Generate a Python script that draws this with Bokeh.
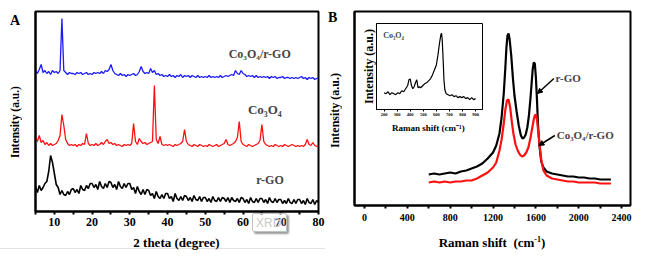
from bokeh.plotting import figure
from bokeh.models import (Range1d, FixedTicker, Label, Arrow, NormalHead,
                          GridBox, ColumnDataSource, Div)
from bokeh.embed import file_html
from bokeh.resources import INLINE

# ---------------- data ----------------
XRD_2THETA = [
    5.0, 5.5, 6.0, 6.5, 7.0, 7.5, 8.0, 8.5, 9.0, 9.5,
    10.0, 10.5, 11.0, 11.5, 12.0, 12.5, 13.0, 13.5, 14.0, 14.5,
    15.0, 15.5, 16.0, 16.5, 17.0, 17.5, 18.0, 18.5, 19.0, 19.5,
    20.0, 20.5, 21.0, 21.5, 22.0, 22.5, 23.0, 23.5, 24.0, 24.5,
    25.0, 25.5, 26.0, 26.5, 27.0, 27.5, 28.0, 28.5, 29.0, 29.5,
    30.0, 30.5, 31.0, 31.5, 32.0, 32.5, 33.0, 33.5, 34.0, 34.5,
    35.0, 35.5, 36.0, 36.5, 37.0, 37.5, 38.0, 38.5, 39.0, 39.5,
    40.0, 40.5, 41.0, 41.5, 42.0, 42.5, 43.0, 43.5, 44.0, 44.5,
    45.0, 45.5, 46.0, 46.5, 47.0, 47.5, 48.0, 48.5, 49.0, 49.5,
    50.0, 50.5, 51.0, 51.5, 52.0, 52.5, 53.0, 53.5, 54.0, 54.5,
    55.0, 55.5, 56.0, 56.5, 57.0, 57.5, 58.0, 58.5, 59.0, 59.5,
    60.0, 60.5, 61.0, 61.5, 62.0, 62.5, 63.0, 63.5, 64.0, 64.5,
    65.0, 65.5, 66.0, 66.5, 67.0, 67.5, 68.0, 68.5, 69.0, 69.5,
    70.0, 70.5, 71.0, 71.5, 72.0, 72.5, 73.0, 73.5, 74.0, 74.5,
    75.0, 75.5, 76.0, 76.5, 77.0, 77.5, 78.0, 78.5, 79.0, 79.5,
    80.0,
]
XRD_CO3O4_RGO = [
    141, 138, 142, 147, 139, 141, 138, 140, 137, 141,
    139, 140, 138, 141, 193, 141, 139, 137, 139, 138,
    138, 137, 139, 138, 139, 137, 138, 139, 137, 138,
    137, 139, 138, 139, 138, 140, 138, 141, 140, 142,
    147, 141, 138, 137, 136, 138, 136, 137, 135, 137,
    136, 137, 138, 136, 137, 140, 145, 140, 138, 139,
    138, 143, 139, 141, 137, 138, 136, 137, 135, 136,
    135, 137, 135, 136, 134, 136, 135, 137, 134, 136,
    135, 136, 134, 136, 135, 134, 136, 134, 135, 134,
    135, 134, 136, 134, 135, 134, 135, 134, 136, 134,
    135, 136, 135, 136, 137, 136, 141, 138, 137, 141,
    138, 137, 135, 136, 135, 136, 134, 136, 134, 135,
    134, 135, 134, 135, 133, 135, 134, 135, 133, 134,
    134, 135, 133, 134, 134, 133, 134, 133, 134, 133,
    134, 135, 133, 134, 132, 134, 133, 134, 132, 133,
    134,
]
XRD_CO3O4 = [
    74, 70, 76, 69, 71, 67, 69, 66, 68, 66,
    67, 68, 71, 76, 97, 86, 72, 68, 66, 67,
    66, 67, 65, 67, 66, 68, 67, 78, 68, 66,
    67, 66, 68, 66, 67, 69, 67, 70, 72, 68,
    69, 67, 68, 66, 67, 66, 65, 67, 66, 67,
    66, 68, 88, 70, 67, 73, 70, 68, 69, 67,
    68, 69, 70, 126, 72, 68, 75, 67, 66, 67,
    66, 67, 66, 65, 67, 66, 67, 68, 70, 82,
    70, 67, 66, 65, 67, 66, 65, 67, 66, 65,
    66, 65, 67, 66, 65, 66, 67, 65, 66, 67,
    68, 72, 67, 66, 67, 68, 70, 74, 90, 70,
    67, 66, 65, 67, 66, 65, 66, 67, 68, 71,
    87, 70, 67, 66, 65, 66, 65, 67, 66, 65,
    66, 65, 67, 66, 65, 66, 67, 66, 65, 66,
    65, 66, 65, 67, 72, 67, 66, 69, 66, 65,
    66,
]
XRD_RGO = [
    25, 19, 26, 21, 24, 28, 30, 40, 56, 49,
    38, 27, 24, 17, 21, 17, 16, 20, 17, 22,
    23, 19, 22, 18, 26, 22, 21, 26, 23, 28,
    28, 24, 27, 22, 30, 25, 23, 28, 24, 30,
    29, 24, 27, 22, 30, 25, 23, 28, 24, 28,
    28, 22, 24, 18, 25, 20, 17, 22, 17, 22,
    21, 16, 18, 13, 20, 15, 13, 17, 13, 18,
    18, 13, 15, 10, 18, 13, 11, 15, 11, 16,
    15, 11, 14, 10, 16, 12, 11, 15, 10, 14,
    14, 10, 13, 9, 15, 11, 10, 14, 10, 14,
    13, 10, 14, 9, 14, 11, 10, 13, 9, 14,
    13, 9, 12, 8, 14, 10, 9, 13, 9, 13,
    13, 9, 12, 8, 14, 10, 9, 13, 9, 12,
    12, 8, 11, 8, 13, 9, 8, 12, 8, 12,
    12, 8, 11, 7, 13, 9, 8, 12, 7, 11,
    9,
]
XRD_TICKS = [10, 20, 30, 40, 50, 60, 70, 80]
XRD_MINOR = [5, 15, 25, 35, 45, 55, 65, 75]

RAMAN_RGO_X = [600, 650, 700, 750, 800, 850, 900, 950, 1000, 1050,
               1100, 1150, 1200, 1230, 1260, 1280, 1300, 1315, 1325, 1335,
               1345, 1355, 1370, 1385, 1400, 1420, 1440, 1460, 1475, 1490,
               1505, 1520, 1535, 1550, 1560, 1570, 1580, 1590, 1600, 1610,
               1620, 1635, 1650, 1670, 1700, 1750, 1800, 1850, 1900, 1950,
               2000, 2050, 2100, 2150, 2200, 2250, 2300]
RAMAN_RGO_Y = [31, 32, 31, 32, 33, 32, 34, 35, 37, 39,
               42, 47, 53, 60, 72, 88, 112, 138, 158, 170,
               172, 166, 150, 128, 110, 94, 80, 70, 67, 68,
               71, 78, 90, 108, 122, 136, 143, 142, 128, 106,
               80, 58, 44, 38, 34, 32, 31, 30, 29, 29,
               28, 28, 27, 27, 26, 26, 26]
RAMAN_COMP_X = [600, 650, 700, 750, 800, 850, 900, 950, 1000, 1050,
                1100, 1150, 1200, 1230, 1260, 1280, 1300, 1315, 1330, 1345,
                1360, 1375, 1390, 1410, 1430, 1450, 1470, 1490, 1510, 1530,
                1550, 1565, 1580, 1590, 1600, 1610, 1620, 1635, 1650, 1670,
                1700, 1750, 1800, 1850, 1900, 1950, 2000, 2050, 2100, 2150,
                2200, 2250, 2300]
RAMAN_COMP_Y = [23, 24, 23, 24, 23, 24, 24, 25, 25, 27,
                30, 33, 38, 43, 55, 66, 82, 96, 105, 106,
                98, 84, 72, 61, 55, 51, 49, 50, 53, 58,
                68, 77, 86, 90, 91, 86, 76, 60, 46, 35,
                30, 27, 26, 25, 24, 24, 23, 23, 23, 23,
                22, 22, 22]
RAMAN_TICKS = [0, 400, 800, 1200, 1600, 2000, 2400]
RAMAN_MINOR = [200, 600, 1000, 1400, 1800, 2200]

INSET_X = [200, 215, 230, 245, 260, 275, 290, 305, 320, 335,
           350, 365, 380, 390, 400, 410, 420, 430, 440, 450,
           460, 470, 480, 495, 510, 525, 540, 555, 570, 585,
           600, 612, 625, 635, 640, 645, 652, 658, 665, 675,
           690, 705, 720, 735, 750, 765, 780, 795, 810, 825,
           840, 855, 870, 885, 900]
INSET_Y = [17, 16, 18, 15, 17, 16, 15, 17, 16, 19,
           18, 21, 24, 30, 31, 24, 21, 23, 27, 30,
           22, 23, 22, 24, 26, 27, 29, 31, 35, 40,
           45, 55, 68, 76, 77, 70, 50, 30, 20, 16,
           15, 14, 15, 13, 14, 12, 13, 12, 13, 11,
           12, 10, 12, 10, 11]
INSET_TICKS = [200, 300, 400, 500, 600, 700, 800, 900]

FONT = "Times"


def base_fig(fw, fh, xr, yr, left, right, top, bottom, outline_w=2):
    p = figure(frame_width=fw, frame_height=fh, x_range=xr, y_range=yr,
               output_backend="svg", toolbar_location=None,
               min_border_left=left, min_border_right=right,
               min_border_top=top, min_border_bottom=bottom)
    p.xgrid.visible = False
    p.ygrid.visible = False
    p.outline_line_color = "black"
    p.outline_line_width = outline_w
    p.outline_line_alpha = 1
    p.background_fill_color = "white"
    p.border_fill_alpha = 0
    for ax in (p.xaxis[0], p.yaxis[0]):
        ax.axis_line_width = outline_w
        ax.axis_line_color = "black"
        ax.axis_label_text_font = FONT
        ax.axis_label_text_font_style = "bold"
        ax.axis_label_text_color = "black"
        ax.major_label_text_font = FONT
        ax.major_label_text_font_style = "bold"
        ax.major_label_text_color = "black"
    p.yaxis[0].ticker = FixedTicker(ticks=[])
    p.yaxis[0].major_tick_line_color = None
    p.yaxis[0].minor_tick_line_color = None
    return p


def html_div(w, h, inner):
    return Div(width=w, height=h, margin=(0, 0, 0, 0), text=inner)


# ---------------- panel A (XRD) ----------------
pa = base_fig(283, 200, Range1d(5, 80), Range1d(0, 200), 35, 7, 10, 48)
pa.xaxis.ticker = FixedTicker(ticks=XRD_TICKS, minor_ticks=XRD_MINOR)
pa.xaxis.major_tick_out = 3
pa.xaxis.major_tick_in = 0
pa.xaxis.minor_tick_out = 3
pa.xaxis.minor_tick_in = 0
pa.xaxis.major_tick_line_width = 2
pa.xaxis.minor_tick_line_width = 2
pa.xaxis.major_label_text_font_size = "12px"
pa.xaxis.major_label_standoff = 3

src_a = ColumnDataSource(dict(x=XRD_2THETA, blue=XRD_CO3O4_RGO,
                              red=XRD_CO3O4, black=XRD_RGO))
pa.line("x", "black", source=src_a, line_color="black", line_width=1.6)
pa.line("x", "red", source=src_a, line_color="#ff1010", line_width=1.3)
pa.line("x", "blue", source=src_a, line_color="#1a1aff", line_width=1.3)

pa.add_layout(Label(x=56.2, y=158, text="Co₃O₄/r-GO", text_font=FONT,
                    text_font_style="bold", text_font_size="12px",
                    text_baseline="middle"))
pa.add_layout(Label(x=61.3, y=102, text="Co₃O₄", text_font=FONT,
                    text_font_style="bold", text_font_size="13px",
                    text_baseline="middle"))
pa.add_layout(Label(x=63.5, y=32, text="r-GO", text_font=FONT,
                    text_font_style="bold", text_font_size="12px",
                    text_baseline="middle"))

# ---------------- panel B (Raman) ----------------
pb = base_fig(276, 194, Range1d(-93, 2483), Range1d(0, 194), 29, 25, 11, 53)
pb.xaxis.ticker = FixedTicker(ticks=RAMAN_TICKS, minor_ticks=RAMAN_MINOR)
pb.xaxis.major_tick_out = 3
pb.xaxis.major_tick_in = 0
pb.xaxis.minor_tick_out = 3
pb.xaxis.minor_tick_in = 0
pb.xaxis.major_tick_line_width = 2
pb.xaxis.minor_tick_line_width = 2
pb.xaxis.major_label_text_font_size = "10px"
pb.xaxis.major_label_standoff = 5

pb.line(RAMAN_RGO_X, RAMAN_RGO_Y, line_color="black", line_width=2.2)
pb.line(RAMAN_COMP_X, RAMAN_COMP_Y, line_color="#ff1010", line_width=2.2)

pb.add_layout(Label(x=1783, y=128, text="r-GO", text_font=FONT,
                    text_font_style="bold", text_font_size="11px",
                    text_baseline="middle"))
pb.add_layout(Label(x=1795, y=71, text="Co₃O₄/r-GO", text_font=FONT,
                    text_font_style="bold", text_font_size="11px",
                    text_baseline="middle"))
ARROW_X0 = [1768, 1777]
ARROW_Y0 = [127, 70]
ARROW_X1 = [1615, 1628]
ARROW_Y1 = [112, 60]
for xs, ys, xe, ye in zip(ARROW_X0, ARROW_Y0, ARROW_X1, ARROW_Y1):
    pb.add_layout(Arrow(end=NormalHead(size=5, fill_color="black",
                                       line_color="black"),
                        x_start=xs, y_start=ys, x_end=xe, y_end=ye,
                        line_width=1.5, line_color="black"))

# ---------------- inset ----------------
pi = base_fig(107, 87, Range1d(142, 953), Range1d(0, 87), 17, 4, 3, 25,
              outline_w=1)
pi.xaxis.ticker = FixedTicker(ticks=INSET_TICKS, minor_ticks=[])
pi.xaxis.major_tick_out = 2
pi.xaxis.major_tick_in = 0
pi.xaxis.major_tick_line_width = 1
pi.xaxis.major_label_text_font_size = "4.5px"
pi.xaxis.major_label_standoff = 1
pi.xaxis.axis_label = "Raman shift  (cm⁻¹)"
pi.xaxis.axis_label_text_font_size = "9px"
pi.xaxis.axis_label_standoff = 4
pi.yaxis.axis_label = "Intensity (a.u.)"
pi.yaxis.axis_label_text_font_size = "12px"
pi.yaxis.axis_label_standoff = 1
pi.line(INSET_X, INSET_Y, line_color="black", line_width=1.2)
pi.add_layout(Label(x=193, y=75, text="Co₃O₄", text_font=FONT,
                    text_font_style="bold", text_font_size="8px",
                    text_baseline="middle"))

# ---------------- texts placed around the panels ----------------
BOLD13 = "font:bold 13px Times;line-height:13px;color:black;"
VERT = ("writing-mode:vertical-rl;transform:rotate(180deg);"
        "text-align:center;white-space:nowrap;color:black;")

div_a = html_div(30, 32, '<div style="font:bold 14px Times;line-height:14px;'
                         'color:black;padding:14px 0 0 10px;">A</div>')
div_b = html_div(20, 32, '<div style="font:bold 14px Times;line-height:14px;'
                         'color:black;padding:11px 0 0 3px;">B</div>')
div_xa = html_div(325, 24, '<div style="' + BOLD13 + 'margin:2px 0 0 35px;'
                           'width:283px;text-align:center;">2 theta (degree)</div>')
div_xb = html_div(330, 24, '<div style="' + BOLD13 + 'margin:2px 0 0 29px;'
                           'width:276px;text-align:center;white-space:nowrap;">'
                           'Raman shift&nbsp; (cm<sup style="font-size:8px;'
                           'line-height:0;vertical-align:5px;">-1</sup>)</div>')
div_ya = html_div(30, 212, '<div style="' + VERT + 'font:bold 11.5px Times;'
                           'line-height:14px;width:14px;height:120px;'
                           'margin:62px 0 0 8px;">Intensity (a.u.)</div>')
div_yb = html_div(20, 212, '<div style="' + VERT + 'font:bold 12px Times;'
                           'line-height:14px;width:14px;height:120px;'
                           'margin:50px 0 0 3px;">Intensity (a.u.)</div>')
div_x = html_div(48, 28, '<div style="margin:1px 0 0 4px;width:35px;height:19px;'
                         'border:1px solid #c2c2c2;border-radius:2px;'
                         'background:rgba(255,255,255,0.15);'
                         'box-shadow:2px 2px 2px #9a9a9a;color:#c8c8c8;'
                         'font:12px Arial;line-height:19px;text-indent:3px;">XRD</div>')
div_sep = html_div(325, 24, '<div style="margin-top:14px;width:325px;height:0;'
                            'border-top:1px solid #e2e2e2;"></div>')

layout = GridBox(
    children=[(pa, 0, 0, 8, 4), (pb, 0, 4, 8, 4), (pi, 2, 6, 2, 1),
              (div_x, 5, 2, 2, 1), (div_sep, 6, 0, 2, 4),
              (div_a, 0, 0, 3, 1), (div_b, 0, 4, 3, 1),
              (div_ya, 0, 0, 5, 1), (div_yb, 0, 4, 5, 1),
              (div_xa, 6, 0, 2, 4), (div_xb, 6, 4, 2, 4)],
    rows=["8px", "12px", "12px", "103px", "77px", "22px", "6px", "18px"],
    cols=["30px", "218px", "48px", "29px", "20px", "13px", "128px", "169px"],
    spacing=0)

open("out.html", "w").write(file_html(layout, INLINE))
